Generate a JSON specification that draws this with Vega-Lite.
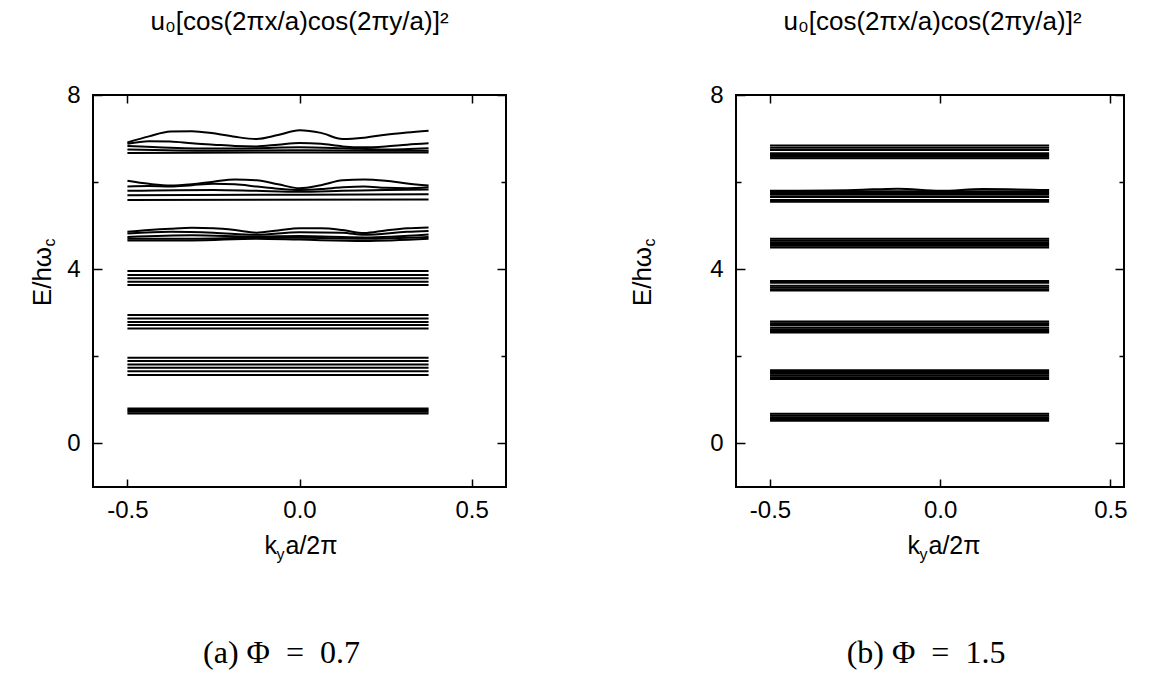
{
  "$schema": "https://vega.github.io/schema/vega-lite/v6.json",
  "background": "white",
  "padding": {"left": 28, "top": 7, "right": 5, "bottom": 5},
  "spacing": 120,
  "config": {
    "view": {"stroke": "black", "strokeWidth": 2},
    "axis": {
      "grid": false, "domain": false,
      "tickColor": "black", "tickWidth": 1.5,
      "labelColor": "black", "titleColor": "black",
      "labelFont": "Liberation Sans", "titleFont": "Liberation Sans",
      "labelFontSize": 24, "titleFontSize": 25, "titleFontWeight": "normal"
    },
    "title": {"font": "Liberation Serif", "fontSize": 32, "fontWeight": "normal", "color": "black"}
  },
  "datasets": {
    "phi07": [
      {"id": "a1", "k": -0.5, "E": 6.91}, {"id": "a1", "k": -0.4375, "E": 7.05}, {"id": "a1", "k": -0.375, "E": 7.16}, {"id": "a1", "k": -0.3125, "E": 7.17}, {"id": "a1", "k": -0.25, "E": 7.12}, {"id": "a1", "k": -0.1875, "E": 7.04}, {"id": "a1", "k": -0.125, "E": 6.99}, {"id": "a1", "k": -0.0625, "E": 7.08}, {"id": "a1", "k": 0, "E": 7.19}, {"id": "a1", "k": 0.0625, "E": 7.13}, {"id": "a1", "k": 0.125, "E": 6.99}, {"id": "a1", "k": 0.1875, "E": 7.02}, {"id": "a1", "k": 0.25, "E": 7.09}, {"id": "a1", "k": 0.3125, "E": 7.14}, {"id": "a1", "k": 0.375, "E": 7.18},
      {"id": "a2", "k": -0.5, "E": 6.88}, {"id": "a2", "k": -0.4375, "E": 6.94}, {"id": "a2", "k": -0.375, "E": 6.93}, {"id": "a2", "k": -0.3125, "E": 6.89}, {"id": "a2", "k": -0.25, "E": 6.86}, {"id": "a2", "k": -0.1875, "E": 6.83}, {"id": "a2", "k": -0.125, "E": 6.82}, {"id": "a2", "k": -0.0625, "E": 6.86}, {"id": "a2", "k": 0, "E": 6.9}, {"id": "a2", "k": 0.0625, "E": 6.88}, {"id": "a2", "k": 0.125, "E": 6.82}, {"id": "a2", "k": 0.1875, "E": 6.8}, {"id": "a2", "k": 0.25, "E": 6.82}, {"id": "a2", "k": 0.3125, "E": 6.86}, {"id": "a2", "k": 0.375, "E": 6.89},
      {"id": "a3", "k": -0.5, "E": 6.83}, {"id": "a3", "k": -0.375, "E": 6.79}, {"id": "a3", "k": -0.25, "E": 6.77}, {"id": "a3", "k": -0.125, "E": 6.78}, {"id": "a3", "k": 0, "E": 6.8}, {"id": "a3", "k": 0.125, "E": 6.78}, {"id": "a3", "k": 0.25, "E": 6.75}, {"id": "a3", "k": 0.375, "E": 6.78},
      {"id": "a4", "k": -0.5, "E": 6.75}, {"id": "a4", "k": -0.25, "E": 6.72}, {"id": "a4", "k": 0, "E": 6.73}, {"id": "a4", "k": 0.25, "E": 6.72}, {"id": "a4", "k": 0.375, "E": 6.72},
      {"id": "a5", "k": -0.5, "E": 6.67}, {"id": "a5", "k": 0, "E": 6.68}, {"id": "a5", "k": 0.375, "E": 6.68},
      {"id": "b1", "k": -0.5, "E": 6.03}, {"id": "b1", "k": -0.4375, "E": 5.96}, {"id": "b1", "k": -0.375, "E": 5.92}, {"id": "b1", "k": -0.3125, "E": 5.95}, {"id": "b1", "k": -0.25, "E": 6.01}, {"id": "b1", "k": -0.1875, "E": 6.06}, {"id": "b1", "k": -0.125, "E": 6.04}, {"id": "b1", "k": -0.0625, "E": 5.95}, {"id": "b1", "k": 0, "E": 5.86}, {"id": "b1", "k": 0.0625, "E": 5.93}, {"id": "b1", "k": 0.125, "E": 6.04}, {"id": "b1", "k": 0.1875, "E": 6.06}, {"id": "b1", "k": 0.25, "E": 6.03}, {"id": "b1", "k": 0.3125, "E": 5.97}, {"id": "b1", "k": 0.375, "E": 5.92},
      {"id": "b2", "k": -0.5, "E": 5.9}, {"id": "b2", "k": -0.4375, "E": 5.91}, {"id": "b2", "k": -0.375, "E": 5.9}, {"id": "b2", "k": -0.3125, "E": 5.93}, {"id": "b2", "k": -0.25, "E": 5.96}, {"id": "b2", "k": -0.1875, "E": 5.95}, {"id": "b2", "k": -0.125, "E": 5.9}, {"id": "b2", "k": -0.0625, "E": 5.85}, {"id": "b2", "k": 0, "E": 5.82}, {"id": "b2", "k": 0.0625, "E": 5.84}, {"id": "b2", "k": 0.125, "E": 5.88}, {"id": "b2", "k": 0.1875, "E": 5.9}, {"id": "b2", "k": 0.25, "E": 5.87}, {"id": "b2", "k": 0.3125, "E": 5.86}, {"id": "b2", "k": 0.375, "E": 5.88},
      {"id": "b3", "k": -0.5, "E": 5.8}, {"id": "b3", "k": -0.25, "E": 5.82}, {"id": "b3", "k": -0.125, "E": 5.8}, {"id": "b3", "k": 0, "E": 5.78}, {"id": "b3", "k": 0.125, "E": 5.8}, {"id": "b3", "k": 0.25, "E": 5.82}, {"id": "b3", "k": 0.375, "E": 5.83},
      {"id": "b4", "k": -0.5, "E": 5.7}, {"id": "b4", "k": 0, "E": 5.71}, {"id": "b4", "k": 0.375, "E": 5.72},
      {"id": "b5", "k": -0.5, "E": 5.59}, {"id": "b5", "k": 0.375, "E": 5.6},
      {"id": "c1", "k": -0.5, "E": 4.86}, {"id": "c1", "k": -0.4375, "E": 4.9}, {"id": "c1", "k": -0.375, "E": 4.93}, {"id": "c1", "k": -0.3125, "E": 4.95}, {"id": "c1", "k": -0.25, "E": 4.94}, {"id": "c1", "k": -0.1875, "E": 4.9}, {"id": "c1", "k": -0.125, "E": 4.84}, {"id": "c1", "k": -0.0625, "E": 4.89}, {"id": "c1", "k": 0, "E": 4.94}, {"id": "c1", "k": 0.0625, "E": 4.94}, {"id": "c1", "k": 0.125, "E": 4.9}, {"id": "c1", "k": 0.1875, "E": 4.83}, {"id": "c1", "k": 0.25, "E": 4.89}, {"id": "c1", "k": 0.3125, "E": 4.94}, {"id": "c1", "k": 0.375, "E": 4.96},
      {"id": "c2", "k": -0.5, "E": 4.82}, {"id": "c2", "k": -0.375, "E": 4.86}, {"id": "c2", "k": -0.25, "E": 4.84}, {"id": "c2", "k": -0.125, "E": 4.79}, {"id": "c2", "k": 0, "E": 4.85}, {"id": "c2", "k": 0.125, "E": 4.84}, {"id": "c2", "k": 0.1875, "E": 4.79}, {"id": "c2", "k": 0.3125, "E": 4.86}, {"id": "c2", "k": 0.375, "E": 4.88},
      {"id": "c3", "k": -0.5, "E": 4.74}, {"id": "c3", "k": -0.3125, "E": 4.78}, {"id": "c3", "k": -0.125, "E": 4.75}, {"id": "c3", "k": 0, "E": 4.76}, {"id": "c3", "k": 0.1875, "E": 4.73}, {"id": "c3", "k": 0.375, "E": 4.8},
      {"id": "c4", "k": -0.5, "E": 4.7}, {"id": "c4", "k": -0.3125, "E": 4.7}, {"id": "c4", "k": -0.125, "E": 4.72}, {"id": "c4", "k": 0, "E": 4.72}, {"id": "c4", "k": 0.1875, "E": 4.7}, {"id": "c4", "k": 0.375, "E": 4.74},
      {"id": "c5", "k": -0.5, "E": 4.66}, {"id": "c5", "k": -0.3125, "E": 4.66}, {"id": "c5", "k": -0.125, "E": 4.7}, {"id": "c5", "k": 0, "E": 4.68}, {"id": "c5", "k": 0.1875, "E": 4.65}, {"id": "c5", "k": 0.375, "E": 4.7},
      {"id": "d1", "k": -0.5, "E": 3.96}, {"id": "d1", "k": 0.375, "E": 3.96},
      {"id": "d2", "k": -0.5, "E": 3.87}, {"id": "d2", "k": 0.375, "E": 3.87},
      {"id": "d3", "k": -0.5, "E": 3.79}, {"id": "d3", "k": 0.375, "E": 3.79},
      {"id": "d4", "k": -0.5, "E": 3.71}, {"id": "d4", "k": 0.375, "E": 3.71},
      {"id": "d5", "k": -0.5, "E": 3.64}, {"id": "d5", "k": 0.375, "E": 3.64},
      {"id": "e1", "k": -0.5, "E": 2.95}, {"id": "e1", "k": 0.375, "E": 2.95},
      {"id": "e2", "k": -0.5, "E": 2.87}, {"id": "e2", "k": 0.375, "E": 2.87},
      {"id": "e3", "k": -0.5, "E": 2.79}, {"id": "e3", "k": 0.375, "E": 2.79},
      {"id": "e4", "k": -0.5, "E": 2.72}, {"id": "e4", "k": 0.375, "E": 2.72},
      {"id": "e5", "k": -0.5, "E": 2.64}, {"id": "e5", "k": 0.375, "E": 2.64},
      {"id": "f1", "k": -0.5, "E": 1.97}, {"id": "f1", "k": 0.375, "E": 1.97},
      {"id": "f2", "k": -0.5, "E": 1.89}, {"id": "f2", "k": 0.375, "E": 1.89},
      {"id": "f3", "k": -0.5, "E": 1.81}, {"id": "f3", "k": 0.375, "E": 1.81},
      {"id": "f4", "k": -0.5, "E": 1.74}, {"id": "f4", "k": 0.375, "E": 1.74},
      {"id": "f5", "k": -0.5, "E": 1.66}, {"id": "f5", "k": 0.375, "E": 1.66},
      {"id": "f6", "k": -0.5, "E": 1.57}, {"id": "f6", "k": 0.375, "E": 1.57},
      {"id": "g1", "k": -0.5, "E": 0.69}, {"id": "g1", "k": 0.375, "E": 0.69},
      {"id": "g2", "k": -0.5, "E": 0.73}, {"id": "g2", "k": 0.375, "E": 0.73},
      {"id": "g3", "k": -0.5, "E": 0.77}, {"id": "g3", "k": 0.375, "E": 0.77},
      {"id": "g4", "k": -0.5, "E": 0.8}, {"id": "g4", "k": 0.375, "E": 0.8}
    ],
    "phi15": [
      {"id": "a1", "k": -0.5, "E": 6.84}, {"id": "a1", "k": 0.32, "E": 6.84},
      {"id": "a2", "k": -0.5, "E": 6.79}, {"id": "a2", "k": 0.32, "E": 6.79},
      {"id": "a3", "k": -0.5, "E": 6.74}, {"id": "a3", "k": 0.32, "E": 6.74},
      {"id": "a4", "k": -0.5, "E": 6.66}, {"id": "a4", "k": 0.32, "E": 6.66},
      {"id": "a5", "k": -0.5, "E": 6.62}, {"id": "a5", "k": 0.32, "E": 6.62},
      {"id": "a6", "k": -0.5, "E": 6.58}, {"id": "a6", "k": 0.32, "E": 6.58},
      {"id": "a7", "k": -0.5, "E": 6.55}, {"id": "a7", "k": 0.32, "E": 6.55},
      {"id": "b1", "k": -0.5, "E": 5.8}, {"id": "b1", "k": -0.25, "E": 5.82}, {"id": "b1", "k": -0.125, "E": 5.85}, {"id": "b1", "k": 0, "E": 5.8}, {"id": "b1", "k": 0.125, "E": 5.84}, {"id": "b1", "k": 0.32, "E": 5.82},
      {"id": "b2", "k": -0.5, "E": 5.79}, {"id": "b2", "k": 0.32, "E": 5.79},
      {"id": "b3", "k": -0.5, "E": 5.75}, {"id": "b3", "k": 0.32, "E": 5.75},
      {"id": "b4", "k": -0.5, "E": 5.71}, {"id": "b4", "k": 0.32, "E": 5.71},
      {"id": "b5", "k": -0.5, "E": 5.66}, {"id": "b5", "k": 0.32, "E": 5.66},
      {"id": "b6", "k": -0.5, "E": 5.59}, {"id": "b6", "k": 0.32, "E": 5.59},
      {"id": "b7", "k": -0.5, "E": 5.55}, {"id": "b7", "k": 0.32, "E": 5.55},
      {"id": "c1", "k": -0.5, "E": 4.7}, {"id": "c1", "k": 0.32, "E": 4.7},
      {"id": "c2", "k": -0.5, "E": 4.66}, {"id": "c2", "k": 0.32, "E": 4.66},
      {"id": "c3", "k": -0.5, "E": 4.62}, {"id": "c3", "k": 0.32, "E": 4.62},
      {"id": "c4", "k": -0.5, "E": 4.58}, {"id": "c4", "k": 0.32, "E": 4.58},
      {"id": "c5", "k": -0.5, "E": 4.54}, {"id": "c5", "k": 0.32, "E": 4.54},
      {"id": "c6", "k": -0.5, "E": 4.5}, {"id": "c6", "k": 0.32, "E": 4.5},
      {"id": "d1", "k": -0.5, "E": 3.73}, {"id": "d1", "k": 0.32, "E": 3.73},
      {"id": "d2", "k": -0.5, "E": 3.69}, {"id": "d2", "k": 0.32, "E": 3.69},
      {"id": "d3", "k": -0.5, "E": 3.62}, {"id": "d3", "k": 0.32, "E": 3.62},
      {"id": "d4", "k": -0.5, "E": 3.58}, {"id": "d4", "k": 0.32, "E": 3.58},
      {"id": "d5", "k": -0.5, "E": 3.54}, {"id": "d5", "k": 0.32, "E": 3.54},
      {"id": "d6", "k": -0.5, "E": 3.51}, {"id": "d6", "k": 0.32, "E": 3.51},
      {"id": "e1", "k": -0.5, "E": 2.8}, {"id": "e1", "k": 0.32, "E": 2.8},
      {"id": "e2", "k": -0.5, "E": 2.76}, {"id": "e2", "k": 0.32, "E": 2.76},
      {"id": "e3", "k": -0.5, "E": 2.72}, {"id": "e3", "k": 0.32, "E": 2.72},
      {"id": "e4", "k": -0.5, "E": 2.66}, {"id": "e4", "k": 0.32, "E": 2.66},
      {"id": "e5", "k": -0.5, "E": 2.62}, {"id": "e5", "k": 0.32, "E": 2.62},
      {"id": "e6", "k": -0.5, "E": 2.58}, {"id": "e6", "k": 0.32, "E": 2.58},
      {"id": "e7", "k": -0.5, "E": 2.55}, {"id": "e7", "k": 0.32, "E": 2.55},
      {"id": "f1", "k": -0.5, "E": 1.68}, {"id": "f1", "k": 0.32, "E": 1.68},
      {"id": "f2", "k": -0.5, "E": 1.64}, {"id": "f2", "k": 0.32, "E": 1.64},
      {"id": "f3", "k": -0.5, "E": 1.6}, {"id": "f3", "k": 0.32, "E": 1.6},
      {"id": "f4", "k": -0.5, "E": 1.56}, {"id": "f4", "k": 0.32, "E": 1.56},
      {"id": "f5", "k": -0.5, "E": 1.52}, {"id": "f5", "k": 0.32, "E": 1.52},
      {"id": "f6", "k": -0.5, "E": 1.48}, {"id": "f6", "k": 0.32, "E": 1.48},
      {"id": "g1", "k": -0.5, "E": 0.68}, {"id": "g1", "k": 0.32, "E": 0.68},
      {"id": "g2", "k": -0.5, "E": 0.64}, {"id": "g2", "k": 0.32, "E": 0.64},
      {"id": "g3", "k": -0.5, "E": 0.6}, {"id": "g3", "k": 0.32, "E": 0.6},
      {"id": "g4", "k": -0.5, "E": 0.56}, {"id": "g4", "k": 0.32, "E": 0.56},
      {"id": "g5", "k": -0.5, "E": 0.52}, {"id": "g5", "k": 0.32, "E": 0.52}
    ]
  },
  "hconcat": [
    {
      "width": 413, "height": 392,
      "data": {"name": "phi07"},
      "title": {"text": "(a) Φ\u2002=\u20020.7", "orient": "bottom", "anchor": "middle", "offset": 76, "dx": -18},
      "layer": [
        {
          "mark": {"type": "line", "color": "black", "strokeWidth": 2, "interpolate": "monotone"},
          "encoding": {
            "x": {"field": "k", "type": "quantitative",
              "scale": {"domain": [-0.6, 0.6], "nice": false, "zero": false},
              "axis": {"orient": "bottom", "values": [-0.5, 0, 0.5], "tickSize": -8, "labelPadding": 19,
                "labelExpr": "datum.value < 0 ? '-' + format(-datum.value, '.1f') : format(datum.value, '.1f')",
                "title": "k", "titleX": 171, "titleY": 66, "titleAlign": "left", "titleBaseline": "alphabetic"}},
            "y": {"field": "E", "type": "quantitative",
              "scale": {"domain": [-1, 8], "nice": false, "zero": false},
              "axis": {"orient": "left", "values": [0, 2, 4, 6, 8], "labelPadding": 22,
                "tickSize": {"condition": {"test": "datum.value % 4 === 0", "value": -9}, "value": -5},
                "labelExpr": "datum.value % 4 === 0 ? datum.label : ''",
                "title": "E/hω", "titleFontSize": 26, "titleX": -51, "titleY": 181, "titleAngle": 270, "titleAlign": "center", "titleBaseline": "middle"}},
            "detail": {"field": "id"}
          }
        },
        {
          "mark": {"type": "point", "opacity": 0},
          "encoding": {
            "x": {"field": "k", "type": "quantitative",
              "scale": {"domain": [-0.6, 0.6], "nice": false, "zero": false},
              "axis": {"orient": "top", "values": [-0.5, 0, 0.5], "tickSize": -8, "labels": false,
                "title": "u₀[cos(2πx/a)cos(2πy/a)]²", "titleFontSize": 26, "titleX": 206, "titleY": -66, "titleAlign": "center", "titleBaseline": "alphabetic"}},
            "y": {"field": "E", "type": "quantitative",
              "scale": {"domain": [-1, 8], "nice": false, "zero": false},
              "axis": {"orient": "right", "values": [0, 2, 4, 6, 8], "labels": false, "title": null,
                "tickSize": {"condition": {"test": "datum.value % 4 === 0", "value": -9}, "value": -5}}}
          }
        },
        {
          "mark": {"type": "point", "opacity": 0},
          "encoding": {
            "x": {"field": "k", "type": "quantitative",
              "scale": {"domain": [-0.6, 0.6], "nice": false, "zero": false},
              "axis": {"orient": "bottom", "ticks": false, "labels": false,
                "title": "y", "titleFontSize": 16, "titleX": 183, "titleY": 72, "titleAlign": "left", "titleBaseline": "alphabetic"}},
            "y": {"field": "E", "type": "quantitative",
              "scale": {"domain": [-1, 8], "nice": false, "zero": false},
              "axis": {"orient": "left", "ticks": false, "labels": false,
                "title": "c", "titleFontSize": 16, "titleX": -44, "titleY": 147, "titleAngle": 270, "titleAlign": "center", "titleBaseline": "middle"}}
          }
        },
        {
          "mark": {"type": "point", "opacity": 0},
          "encoding": {
            "x": {"field": "k", "type": "quantitative",
              "scale": {"domain": [-0.6, 0.6], "nice": false, "zero": false},
              "axis": {"orient": "bottom", "ticks": false, "labels": false,
                "title": "a/2π", "titleX": 192, "titleY": 66, "titleAlign": "left", "titleBaseline": "alphabetic"}},
            "y": {"field": "E", "type": "quantitative",
              "scale": {"domain": [-1, 8], "nice": false, "zero": false}, "axis": null}
          }
        }
      ],
      "resolve": {"scale": {"x": "independent", "y": "independent"}}
    },
    {
      "width": 388, "height": 392,
      "data": {"name": "phi15"},
      "title": {"text": "(b) Φ\u2002=\u20021.5", "orient": "bottom", "anchor": "middle", "offset": 76, "dx": -4},
      "layer": [
        {
          "mark": {"type": "line", "color": "black", "strokeWidth": 2, "interpolate": "monotone"},
          "encoding": {
            "x": {"field": "k", "type": "quantitative",
              "scale": {"domain": [-0.6, 0.54], "nice": false, "zero": false},
              "axis": {"orient": "bottom", "values": [-0.5, 0, 0.5], "tickSize": -8, "labelPadding": 19,
                "labelExpr": "datum.value < 0 ? '-' + format(-datum.value, '.1f') : format(datum.value, '.1f')",
                "title": "k", "titleX": 171, "titleY": 66, "titleAlign": "left", "titleBaseline": "alphabetic"}},
            "y": {"field": "E", "type": "quantitative",
              "scale": {"domain": [-1, 8], "nice": false, "zero": false},
              "axis": {"orient": "left", "values": [0, 2, 4, 6, 8], "labelPadding": 22,
                "tickSize": {"condition": {"test": "datum.value % 4 === 0", "value": -9}, "value": -5},
                "labelExpr": "datum.value % 4 === 0 ? datum.label : ''",
                "title": "E/hω", "titleFontSize": 26, "titleX": -94, "titleY": 181, "titleAngle": 270, "titleAlign": "center", "titleBaseline": "middle"}},
            "detail": {"field": "id"}
          }
        },
        {
          "mark": {"type": "point", "opacity": 0},
          "encoding": {
            "x": {"field": "k", "type": "quantitative",
              "scale": {"domain": [-0.6, 0.54], "nice": false, "zero": false},
              "axis": {"orient": "top", "values": [-0.5, 0, 0.5], "tickSize": -8, "labels": false,
                "title": "u₀[cos(2πx/a)cos(2πy/a)]²", "titleFontSize": 26, "titleX": 196, "titleY": -66, "titleAlign": "center", "titleBaseline": "alphabetic"}},
            "y": {"field": "E", "type": "quantitative",
              "scale": {"domain": [-1, 8], "nice": false, "zero": false},
              "axis": {"orient": "right", "values": [0, 2, 4, 6, 8], "labels": false, "title": null,
                "tickSize": {"condition": {"test": "datum.value % 4 === 0", "value": -9}, "value": -5}}}
          }
        },
        {
          "mark": {"type": "point", "opacity": 0},
          "encoding": {
            "x": {"field": "k", "type": "quantitative",
              "scale": {"domain": [-0.6, 0.54], "nice": false, "zero": false},
              "axis": {"orient": "bottom", "ticks": false, "labels": false,
                "title": "y", "titleFontSize": 16, "titleX": 183, "titleY": 72, "titleAlign": "left", "titleBaseline": "alphabetic"}},
            "y": {"field": "E", "type": "quantitative",
              "scale": {"domain": [-1, 8], "nice": false, "zero": false},
              "axis": {"orient": "left", "ticks": false, "labels": false,
                "title": "c", "titleFontSize": 16, "titleX": -87, "titleY": 147, "titleAngle": 270, "titleAlign": "center", "titleBaseline": "middle"}}
          }
        },
        {
          "mark": {"type": "point", "opacity": 0},
          "encoding": {
            "x": {"field": "k", "type": "quantitative",
              "scale": {"domain": [-0.6, 0.54], "nice": false, "zero": false},
              "axis": {"orient": "bottom", "ticks": false, "labels": false,
                "title": "a/2π", "titleX": 192, "titleY": 66, "titleAlign": "left", "titleBaseline": "alphabetic"}},
            "y": {"field": "E", "type": "quantitative",
              "scale": {"domain": [-1, 8], "nice": false, "zero": false}, "axis": null}
          }
        }
      ],
      "resolve": {"scale": {"x": "independent", "y": "independent"}}
    }
  ]
}
